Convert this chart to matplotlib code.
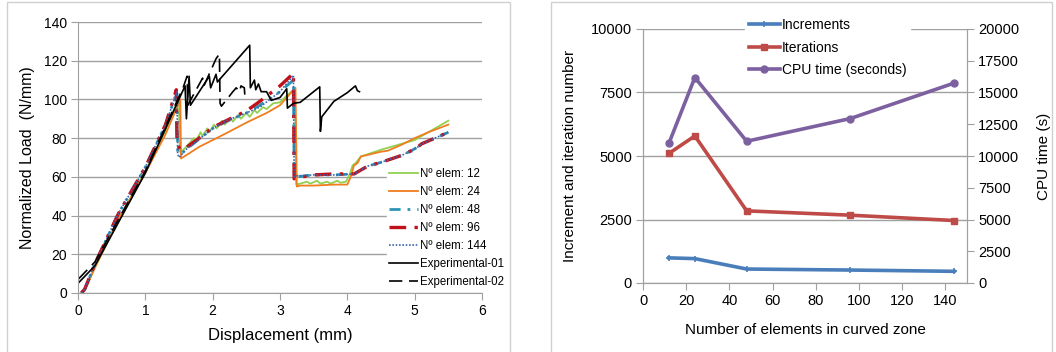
import matplotlib
matplotlib.use("Agg")
import matplotlib.pyplot as plt
from matplotlib.patches import Rectangle
import numpy as np

plt.rcParams["font.family"] = ["Liberation Sans", "DejaVu Sans"]

# ---- left chart: load vs displacement ----
x12 = [0.07, 0.12, 0.25, 0.6, 1.0, 1.3, 1.5, 1.51, 1.55, 1.62, 1.72, 1.74, 1.82, 1.85, 1.92, 1.95,
       2.02, 2.06, 2.14, 2.18, 2.26, 2.3, 2.38, 2.42, 2.5, 2.55, 2.62, 2.66, 2.75, 2.8, 2.9, 3.0, 3.1,
       3.22, 3.24, 3.3, 3.4, 3.45, 3.55, 3.6, 3.7, 3.75, 3.85, 3.9, 3.98, 4.03, 4.08, 4.12, 4.2, 4.5,
       4.8, 5.0, 5.2, 5.5]
y12 = [0, 3, 13, 38, 63, 84, 101, 73, 73.5, 76, 80, 78, 83, 81, 85, 83,
       87, 85, 89, 87, 90.5, 88.5, 92, 90, 93, 91, 94.5, 93, 96, 95, 98, 98.5, 102,
       105.5, 56, 56.5, 57.5, 56.5, 58, 56.5, 57.5, 56.5, 58, 57, 57.5, 61, 66, 67, 70.5, 74,
       77, 79, 83, 89]

x24 = [0.07, 0.12, 0.25, 0.6, 1.0, 1.3, 1.52, 1.53, 1.6, 1.8, 2.0, 2.2, 2.5, 2.8, 3.0, 3.23, 3.25,
       3.3, 3.5, 3.8, 4.0, 4.05, 4.1, 4.15, 4.2, 4.5, 4.6, 4.8, 5.0, 5.2, 5.5]
y24 = [0, 3, 13, 38, 62, 82, 100, 69.5, 71, 75.5, 79, 82.5, 88, 93, 97, 106, 55,
       55.5, 55.5, 56, 56, 60, 66, 67, 70.5, 73, 73.5, 76.5, 80, 83, 87]

x48 = [0.05, 0.1, 0.25, 0.6, 1.0, 1.3, 1.47, 1.48, 1.52, 1.6, 1.8, 2.0, 2.2, 2.5, 2.7, 3.0, 3.2,
       3.21, 3.25, 3.5, 3.8, 4.1, 4.2, 4.3, 4.5, 4.8, 4.95, 5.05, 5.1, 5.5]
y48 = [0, 2, 15, 41, 65, 87, 104, 73, 71.5, 74, 79.5, 85, 88.5, 93, 97, 104, 110,
       60, 60, 61, 61, 61.5, 63.5, 65.5, 67.5, 71, 73.5, 75.5, 77, 83]

x96 = [0.05, 0.1, 0.25, 0.6, 1.0, 1.3, 1.46, 1.47, 1.52, 1.6, 1.8, 2.0, 2.2, 2.5, 2.7, 3.0, 3.2,
       3.21, 3.25, 3.5, 3.8, 4.1, 4.2, 4.3, 4.5, 4.8, 4.95, 5.05, 5.1, 5.5]
y96 = [0, 2, 15, 41, 65, 87, 105, 77, 74, 75, 80, 85.5, 89, 94, 99, 107, 113.5,
       59, 59.5, 61, 61.5, 61.5, 63.5, 65.5, 67.5, 71, 73.5, 75.5, 77, 83]

x144 = [0.05, 0.1, 0.25, 0.6, 1.0, 1.3, 1.47, 1.48, 1.5, 1.6, 1.8, 2.0, 2.2, 2.5, 2.7, 3.0, 3.2,
        3.21, 3.25, 3.5, 3.8, 4.1, 4.2, 4.3, 4.5, 4.8, 4.95, 5.05, 5.1, 5.5]
y144 = [0, 2, 15, 41, 65, 87, 104, 72, 70, 74, 79.5, 85, 89, 93, 96, 104, 112.5,
        60, 60.5, 61, 61, 61.5, 63.5, 65.5, 67.5, 71, 73.5, 75.5, 77, 83]

xe1 = [0, 0.25, 1.0, 1.59, 1.61, 1.65, 1.67, 1.95, 1.97, 2.05, 2.07, 2.55, 2.56, 2.62, 2.64,
       2.68, 2.72, 2.8, 2.87, 3.0, 3.1, 3.11, 3.2, 3.3, 3.59, 3.6, 3.62, 3.8, 4.0, 4.12, 4.15, 4.18]
ye1 = [5, 14, 62, 107, 90, 112, 97, 112, 106, 113, 109, 128, 106, 110, 105,
       108, 104, 104, 99.5, 101, 105.5, 95.5, 98, 98.5, 106.5, 83.5, 91, 99, 103.5, 107, 104.5, 104]

xe2 = [0, 0.25, 1.0, 1.56, 1.62, 1.63, 1.85, 1.87, 2.05, 2.1, 2.11, 2.13, 2.3, 2.35, 2.4, 2.42,
       2.47, 2.48]
ye2 = [7, 16, 63, 106, 112, 97, 111, 107, 121, 123.5, 98, 96.5, 104, 106, 104, 107,
       106, 101]

# ---- right chart: mesh study ----
n_elem = [12, 24, 48, 96, 144]
increments = [990, 960, 550, 510, 460]
iterations = [5100, 5790, 2840, 2670, 2460]
cpu_time = [11000, 16180, 11160, 12950, 15740]

grid_c = "#A0A0A0"
fig = plt.figure(figsize=(10.56, 3.52), dpi=100)

# panel frames
for x0, x1 in [(7, 510), (551, 1052)]:
    fig.patches.append(Rectangle((x0 / 1056, -0.01), (x1 - x0) / 1056, 1.0 - 2 / 352 + 0.01,
                                 transform=fig.transFigure, fill=False, ec="#D0D0D0", lw=1))

ax = fig.add_axes([78 / 1056, 1 - 293 / 352, 404 / 1056, 271 / 352])
ax.plot(x12, y12, color="#92D050", lw=1.3, label="Nº elem: 12")
ax.plot(x24, y24, color="#F07D1E", lw=1.3, label="Nº elem: 24")
ax.plot(x48, y48, color="#2E93B4", lw=2, ls=(0, (4, 2.5, 1, 2.5, 1, 2.5)), label="Nº elem: 48")
ax.plot(x96, y96, color="#C0101A", lw=2.4, ls=(0, (5, 2.5, 1, 2.5)), label="Nº elem: 96")
ax.plot(x144, y144, color="#3A66B0", lw=1.2, ls=(0, (1, 1)), label="Nº elem: 144")
ax.plot(xe1, ye1, color="black", lw=1.2, label="Experimental-01")
ax.plot(xe2, ye2, color="black", lw=1.2, ls=(0, (8, 4)), label="Experimental-02")
ax.set_xlim(0, 6)
ax.set_ylim(0, 140)
ax.set_yticks(np.arange(0, 141, 20))
ax.set_xticks(range(0, 7))
ax.grid(axis="y", color=grid_c, lw=1)
ax.set_axisbelow(True)
for s in ["top", "right"]:
    ax.spines[s].set_visible(False)
for s in ["left", "bottom"]:
    ax.spines[s].set_color(grid_c)
ax.tick_params(direction="out", length=5, color=grid_c, labelsize=10, pad=3)
ax.set_xlabel("Displacement (mm)", fontsize=12, labelpad=7)
ax.set_ylabel("Normalized Load  (N/mm)", fontsize=11.5, labelpad=6)
leg = ax.legend(loc="upper left", bbox_to_anchor=(0.765, 0.47), frameon=True, fontsize=8.3,
                handlelength=2.5, handletextpad=0.15, labelspacing=0.52, borderpad=0.2,
                borderaxespad=0)
leg.get_frame().set_facecolor("white")
leg.get_frame().set_edgecolor("white")
leg.get_frame().set_alpha(1)

ax2 = fig.add_axes([643 / 1056, 1 - 283 / 352, 324 / 1056, 254 / 352])
ax3 = ax2.twinx()
l1, = ax2.plot(n_elem, increments, color="#4A7EBB", lw=2.6, marker="+", ms=5, mew=1.2,
               label="Increments")
l2, = ax2.plot(n_elem, iterations, color="#BE4B48", lw=2.6, marker="s", ms=4, label="Iterations")
l3, = ax3.plot(n_elem, cpu_time, color="#7D60A0", lw=2.6, marker="o", ms=5,
               label="CPU time (seconds)")
ax2.set_xlim(0, 150)
ax2.set_xticks(range(0, 141, 20))
ax2.set_ylim(0, 10000)
ax2.set_yticks(range(0, 10001, 2500))
ax3.set_ylim(0, 20000)
ax3.set_yticks(range(0, 20001, 2500))
ax2.grid(axis="y", color=grid_c, lw=1)
ax2.set_axisbelow(True)
for a in (ax2, ax3):
    a.spines["top"].set_visible(False)
    for s in ["left", "bottom", "right"]:
        a.spines[s].set_color(grid_c)
    a.tick_params(direction="out", length=5, color=grid_c, labelsize=10.5, pad=3)
ax2.set_xlabel("Number of elements in curved zone", fontsize=11, labelpad=11)
ax2.set_ylabel("Increment and iteration number", fontsize=11, labelpad=10)
ax3.set_ylabel("CPU time (s)", fontsize=11, labelpad=13)
leg2 = ax3.legend(handles=[l1, l2, l3], loc="upper center", bbox_to_anchor=(0.57, 1.06),
                  frameon=True, fontsize=10, handlelength=2.2, handletextpad=0.15,
                  labelspacing=0.62, borderpad=0.3, borderaxespad=0)
leg2.get_frame().set_facecolor("white")
leg2.get_frame().set_edgecolor("white")
leg2.get_frame().set_alpha(1)
ax3.set_zorder(ax2.get_zorder() + 1)

fig.savefig("out.png", dpi=100)
